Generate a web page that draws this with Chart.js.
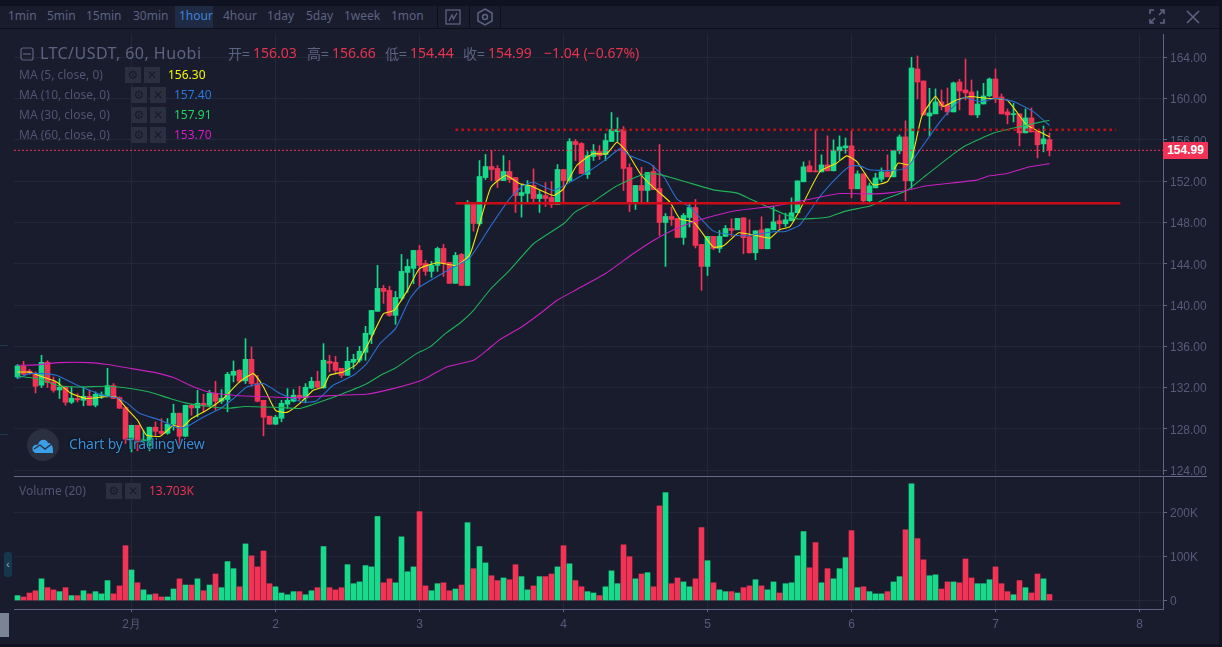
<!DOCTYPE html>
<html>
<head>
<meta charset="utf-8">
<title>LTC/USDT</title>
<script src="https://cdn.jsdelivr.net/npm/chart.js@4/dist/chart.umd.min.js"></script>
<style>
  html, body { margin: 0; padding: 0; background: #0f1220; width: 1222px; height: 647px; overflow: hidden; }
  #frame { position: absolute; left: 0; top: 6px; width: 1219px; height: 638px; background: #181c2d; }
  canvas { position: absolute; display: block; }
  .t { position: absolute; white-space: nowrap; font-family: "Noto Sans", sans-serif; line-height: 1; }
  .tool { top: 10px; font-size: 12px; color: #5d6382; }
  .sep { position: absolute; width: 1px; top: 6px; height: 22px; background: #0d101a; }
  .ma { font-size: 12px; color: #4f5572; }
  .val { font-size: 12px; }
  .btn { position: absolute; width: 16px; height: 16px; background: #2b3040; color: #161a28; font: bold 12px/16px "DejaVu Sans", sans-serif; text-align: center; }
  .hl { font-size: 14px; color: #e8334f; top: 46px; }
  .hk { font-size: 14px; color: #5d6382; top: 46px; }
</style>
</head>
<body>
<div id="frame"></div>
<canvas id="price" width="1204" height="441" style="left:14px;top:34px"></canvas>
<canvas id="volume" width="1204" height="153" style="left:14px;top:477px"></canvas>
<div style="position:absolute;left:14px;top:476px;width:1193px;height:1px;background:#666b8c"></div>
<div style="position:absolute;left:0;top:28px;width:1219px;height:1px;background:#0d101a"></div>

<!-- toolbar -->
<div style="position:absolute;left:175px;top:6px;width:38px;height:22px;background:#1f2a44"></div>
<span class="t tool" style="left:8px">1min</span>
<span class="t tool" style="left:47px">5min</span>
<span class="t tool" style="left:86px">15min</span>
<span class="t tool" style="left:133px">30min</span>
<span class="t tool" style="left:179px;color:#3f83d8">1hour</span>
<span class="t tool" style="left:223px">4hour</span>
<span class="t tool" style="left:267px">1day</span>
<span class="t tool" style="left:306px">5day</span>
<span class="t tool" style="left:344px">1week</span>
<span class="t tool" style="left:391px">1mon</span>
<div class="sep" style="left:437px"></div>
<div class="sep" style="left:469px"></div>
<div class="sep" style="left:500px"></div>
<svg style="position:absolute;left:445px;top:9px" width="16" height="16" fill="none" stroke="#5d6382" stroke-width="1.3"><rect x="1" y="1" width="14" height="14"/><path d="M4 12 L7 6 L8.5 10 L12 4"/></svg>
<svg style="position:absolute;left:477px;top:8px" width="16" height="18" fill="none" stroke="#5d6382" stroke-width="1.5"><path d="M8 1 L15 5 L15 13 L8 17 L1 13 L1 5 Z"/><circle cx="8" cy="9" r="2.5"/></svg>
<svg style="position:absolute;left:1149px;top:9px" width="16" height="15" fill="none" stroke="#5d6382" stroke-width="1.6"><path d="M1 5 V1 H5 M11 1 H15 V5 M15 10 V14 H11 M5 14 H1 V10 M2 13 L6 9 M14 2 L10 6"/></svg>
<svg style="position:absolute;left:1186px;top:10px" width="14" height="14" fill="none" stroke="#5d6382" stroke-width="1.6"><path d="M1 1 L13 13 M13 1 L1 13"/></svg>

<!-- legend -->
<svg style="position:absolute;left:20px;top:47px" width="14" height="14" fill="none" stroke="#5d6382" stroke-width="1.2"><rect x="1" y="1" width="12" height="12" rx="2"/><path d="M3 7 H11"/></svg>
<span class="t" style="left:40px;top:45px;font-size:16px;letter-spacing:0.45px;color:#5d6382">LTC/USDT, 60, Huobi</span>
<span class="t hk" style="left:228px;font-family:'Noto Sans CJK SC'">开=</span><span class="t hl" style="left:253px">156.03</span>
<span class="t hk" style="left:307px;font-family:'Noto Sans CJK SC'">高=</span><span class="t hl" style="left:332px">156.66</span>
<span class="t hk" style="left:385px;font-family:'Noto Sans CJK SC'">低=</span><span class="t hl" style="left:410px">154.44</span>
<span class="t hk" style="left:463px;font-family:'Noto Sans CJK SC'">收=</span><span class="t hl" style="left:488px">154.99</span>
<span class="t hl" style="left:544px">−1.04 (−0.67%)</span>

<span class="t ma" style="left:19px;top:69px">MA (5, close, 0)</span>
<div class="btn" style="left:125px;top:67px">⚙</div><div class="btn" style="left:144px;top:67px">✕</div>
<span class="t val" style="left:168px;top:69px;color:#f5f50a">156.30</span>
<span class="t ma" style="left:19px;top:89px">MA (10, close, 0)</span>
<div class="btn" style="left:131px;top:87px">⚙</div><div class="btn" style="left:150px;top:87px">✕</div>
<span class="t val" style="left:174px;top:89px;color:#2a78e0">157.40</span>
<span class="t ma" style="left:19px;top:109px">MA (30, close, 0)</span>
<div class="btn" style="left:131px;top:107px">⚙</div><div class="btn" style="left:150px;top:107px">✕</div>
<span class="t val" style="left:174px;top:109px;color:#1fd860">157.91</span>
<span class="t ma" style="left:19px;top:129px">MA (60, close, 0)</span>
<div class="btn" style="left:131px;top:127px">⚙</div><div class="btn" style="left:150px;top:127px">✕</div>
<span class="t val" style="left:174px;top:129px;color:#d81cc8">153.70</span>

<span class="t ma" style="left:19px;top:485px">Volume (20)</span>
<div class="btn" style="left:106px;top:483px">⚙</div><div class="btn" style="left:125px;top:483px">✕</div>
<span class="t val" style="left:149px;top:485px;color:#e8334f">13.703K</span>

<!-- last price tag -->
<div class="t" style="left:1163px;top:142px;width:45px;height:17px;background:#f23355;color:#fff;font:bold 12px/17px 'Liberation Sans',sans-serif;text-align:center">154.99</div>

<!-- watermark -->
<div style="position:absolute;left:27px;top:429px;width:32px;height:32px;border-radius:50%;background:#2a3040"></div>
<svg style="position:absolute;left:32px;top:437px" width="22" height="16"><path d="M1 14 C-1 9 3 7 6 8 C7 2 14 1 16 6 C19 6 21 8 21 14 L21 16 H3 Z" fill="#3ba0ea"/><path d="M2 12 L8 8 L13 12 L21 6" fill="none" stroke="#2a3040" stroke-width="1.4"/></svg>
<span class="t" style="left:69px;top:437px;font-size:14px;letter-spacing:-0.2px;color:#3a8fd6;text-shadow:0 0 2px #0d101a,0 0 2px #0d101a">Chart by TradingView</span>

<!-- sidebar bits -->
<div style="position:absolute;left:0;top:613px;width:9px;height:24px;background:#7b8494"></div>
<div style="position:absolute;left:4px;top:552px;width:8px;height:25px;border-radius:3px;background:#14384a;color:#9fb4c4;font:10px/25px sans-serif;text-align:center">‹</div>
<div style="position:absolute;left:0;top:345px;width:8px;height:1px;background:#1d3a4a"></div>
<div style="position:absolute;left:0;top:434px;width:8px;height:1px;background:#1d3a4a"></div>

<script>
// candles, one per hour, starting 31 Jan 05:00
const opens = [
  133.03,134.10,133.61,133.39,132.23,134.45,132.55,131.77,132.03,130.58,
  130.94,130.77,131.16,130.29,131.19,131.16,132.19,131.03,130.06,127.00,
  128.35,126.84,126.39,128.16,127.77,127.58,128.45,129.52,127.29,130.29,
  130.03,130.48,130.29,131.45,130.68,130.84,133.19,133.68,132.65,134.74,
  132.39,130.77,129.23,128.45,129.03,130.39,130.68,131.26,131.00,131.94,
  132.61,131.97,134.55,134.45,133.87,133.19,134.45,134.65,135.42,137.16,
  139.39,141.61,141.42,139.00,140.65,143.16,143.55,145.29,144.03,143.26,
  143.84,145.48,144.13,142.10,144.90,141.90,149.84,147.87,152.35,153.42,
  153.23,152.06,152.94,152.35,150.61,150.81,151.58,150.32,150.61,150.42,
  149.74,153.13,152.06,155.84,155.65,152.65,154.39,154.87,154.58,155.84,
  156.81,157.00,153.32,149.84,151.58,151.10,152.94,151.29,148.00,148.58,
  148.39,146.55,148.48,149.45,145.87,143.74,146.65,145.48,146.65,147.42,
  147.29,148.45,146.61,145.06,147.29,145.45,147.29,148.16,147.87,148.16,
  148.94,151.94,153.48,152.97,152.90,153.58,153.00,154.94,155.23,155.42,
  151.26,152.71,150.10,151.35,152.19,152.90,152.42,154.94,156.29,152.03,
  162.87,161.71,158.32,158.52,159.68,159.39,158.71,161.61,160.84,160.65,
  158.42,159.48,160.26,161.90,160.16,158.71,158.45,158.52,156.68,158.13,
  156.87,155.61,156.03];
const closes = [
  134.10,133.29,133.42,132.13,134.45,132.48,131.74,132.03,130.58,130.97,
  130.81,131.16,130.29,131.35,131.26,132.19,130.94,130.00,127.00,128.35,
  126.74,126.90,128.16,127.77,127.55,128.45,129.52,127.29,130.29,130.03,
  130.48,130.26,131.45,130.68,130.97,133.29,133.58,132.61,134.74,132.39,
  130.68,129.13,128.45,129.13,130.48,130.77,131.26,131.00,132.03,132.61,
  132.03,134.65,134.35,133.68,133.19,134.55,134.74,135.52,137.26,139.48,
  141.61,141.32,139.00,140.74,143.26,143.74,145.29,143.84,143.26,143.84,
  145.48,144.03,142.10,144.81,141.90,149.94,147.90,152.45,153.42,153.13,
  152.06,152.94,152.16,150.61,150.90,151.58,150.32,150.71,150.32,149.74,
  153.13,152.06,155.84,155.55,152.74,154.48,154.87,154.48,155.94,157.00,
  157.00,153.23,149.84,151.58,151.10,152.84,151.19,148.00,148.58,148.29,
  146.55,148.68,149.45,145.77,143.74,146.65,145.48,146.65,147.42,147.23,
  148.39,146.52,145.06,147.19,145.45,147.39,148.06,147.87,148.26,148.94,
  152.03,153.39,152.90,152.90,153.58,153.00,154.94,155.32,155.42,151.26,
  152.71,150.10,151.55,152.32,152.90,152.42,154.94,156.29,152.03,162.97,
  161.61,158.42,158.61,159.68,159.29,158.71,161.52,160.74,160.55,158.42,
  159.48,160.26,161.90,160.06,158.52,158.42,158.52,156.68,158.13,156.77,
  155.52,156.10,154.99];
const highs = [
  134.23,134.55,133.77,133.52,135.13,134.61,133.03,132.87,132.13,132.06,
  131.42,132.06,131.74,131.58,131.58,133.87,132.39,131.10,130.06,128.35,
  128.35,127.87,128.16,128.68,129.00,129.00,130.39,129.52,130.29,130.39,
  131.74,131.35,131.74,132.61,131.81,133.48,134.58,133.74,136.74,135.94,
  133.19,130.77,129.23,129.32,130.77,131.90,131.81,132.13,132.39,133.00,
  133.58,136.26,135.13,135.03,133.87,135.90,135.23,136.00,137.94,139.48,
  143.84,141.90,141.81,141.32,144.90,144.42,145.29,145.77,144.32,144.23,
  145.61,145.87,144.13,145.10,145.00,150.13,149.84,154.00,154.58,154.97,
  153.52,154.48,154.00,152.35,151.68,152.06,153.19,151.10,151.87,151.97,
  153.61,153.13,156.13,156.03,155.74,154.87,155.55,155.45,156.58,158.65,
  158.16,157.29,153.68,151.58,153.35,152.84,153.52,155.55,148.87,149.48,
  148.39,148.87,149.87,150.23,145.87,146.65,146.65,147.23,147.71,148.35,
  148.39,148.45,148.26,147.19,148.55,147.39,149.55,148.74,148.90,150.39,
  152.03,153.87,153.97,156.97,154.55,156.39,156.00,156.39,156.19,156.87,
  153.00,152.71,151.81,152.77,153.29,154.55,154.94,156.48,157.84,164.00,
  164.13,161.71,161.00,160.94,160.84,161.03,161.61,161.87,163.84,161.81,
  160.74,161.48,162.00,162.87,160.45,159.00,159.55,158.52,159.00,159.10,
  156.87,157.35,156.66];
const lows = [
  132.87,133.26,133.29,131.48,132.00,132.00,131.55,130.94,130.29,130.45,
  130.61,130.23,130.29,130.13,130.94,131.10,130.94,129.97,126.58,125.77,
  125.87,126.58,125.87,127.23,127.39,127.48,127.87,126.26,127.23,129.32,
  129.16,129.65,130.13,129.81,130.45,129.65,132.55,132.48,132.39,132.13,
  130.61,127.32,128.45,128.42,128.68,129.97,130.61,130.77,130.52,131.87,
  132.00,131.94,133.52,133.42,132.94,133.19,133.81,134.45,134.65,136.26,
  139.39,140.16,138.90,138.13,140.45,141.23,142.06,141.81,142.87,142.68,
  143.26,142.77,142.10,142.10,141.90,141.90,147.16,147.71,152.16,152.06,
  151.39,152.06,151.87,148.97,148.52,149.94,149.94,148.97,149.55,149.45,
  149.74,150.03,151.97,154.00,152.74,152.26,154.00,154.10,154.00,155.84,
  155.84,151.10,149.06,149.26,149.94,149.84,151.19,146.74,143.74,147.71,
  146.55,145.87,147.55,145.52,141.42,142.87,145.35,145.10,146.65,146.65,
  147.29,144.97,145.03,144.39,145.45,145.45,147.29,147.39,147.61,148.16,
  148.94,151.94,152.90,152.90,152.90,153.00,153.00,154.06,154.71,150.39,
  151.26,149.81,149.81,151.35,151.94,152.42,152.42,154.65,150.10,151.32,
  159.97,158.42,156.39,158.52,158.90,158.42,158.71,158.90,159.87,158.42,
  158.16,159.48,160.19,159.61,158.52,157.55,157.74,155.42,156.68,156.77,
  154.26,154.84,154.44];
// thousands
const volumes = [
  11,8,17,22,49,29,24,20,29,11,
  11,22,15,20,15,45,15,33,124,69,
  40,24,13,15,8,8,26,49,35,35,
  49,22,35,60,29,88,72,31,128,101,
  76,112,38,31,17,13,20,20,13,22,
  29,122,29,24,29,81,38,42,79,76,
  190,40,49,40,144,65,76,201,33,22,
  38,40,22,26,35,176,72,122,85,56,
  45,51,47,81,54,24,33,54,54,60,
  76,124,83,45,31,20,17,11,31,67,
  38,126,99,49,60,63,31,214,244,38,
  51,42,31,49,165,90,40,24,20,20,
  17,29,33,47,33,24,42,17,38,40,
  101,156,74,131,40,72,49,72,97,158,
  29,31,20,15,15,20,42,54,160,264,
  140,92,56,58,26,42,42,40,94,51,
  38,38,47,76,38,20,13,45,29,17,
  60,49,13.703];

// moving averages at candle positions
const ma5At = [0,2,4.3,6.5,9,11.5,14.3,16.5,18.2,20,21.5,23.8,26,27.4,29,31.5,34.3,37,39.3,41,43,44.9,47,49.3,51,52,54.3,56.5,58.75,61,62.75,65,67,70,73.2,75.4,77,78.9,81.4,83.75,85.4,89.3,91,93.2,95.9,98.2,99.9,101.5,104,106.25,108.75,110.4,112.7,116,117.75,120.2,122.6,125.4,127,128.75,130.4,133.75,136.5,138.2,139.9,142.6,145,146.75,148.75,150.7,153,154.3,156.5,158.75,161.5,164.9,166.5,168.2,172];
const ma5 = [133.5,133.5,133.0,132.55,131.42,130.94,131.1,131.1,129.97,128.84,127.39,127.29,128.35,128.13,129.0,129.8,130.94,132.55,133.35,132.06,129.8,129.6,130.45,131.74,132.06,133.19,133.52,134.26,136.58,139.16,139.48,141.42,143.52,144.1,143.84,144.9,147.87,151.42,152.55,151.74,151.58,150.61,151.26,153.52,154.65,154.65,155.77,154.9,152.55,151.26,149.97,148.35,148.03,145.61,145.77,147.0,146.8,146.48,147.3,147.6,149.23,152.94,153.74,154.45,153.9,151.65,151.97,153.74,153.58,158.26,160.2,159.23,159.87,160.2,160.03,159.87,158.74,157.45,156.3];
const ma10At = [0,2,4.3,6.5,10,13.2,15,16.5,18.2,20.4,23.8,26.6,28.2,31,33.8,36,38.2,41,43.75,47.6,49.8,52.6,56,58.2,60.4,63,65.4,67,71.5,75.4,78.75,82,84.3,86,89.3,92.6,95.4,98.2,100.4,102,105.4,107.75,109.9,112.1,116,120,122,126,128,130.4,133.75,137,138.8,140.4,142,145.4,148.2,150.4,153.75,156,157.7,160.4,163.2,166,169.3,172];
const ma10 = [132.87,133.35,133.35,133.19,132.23,131.48,131.16,131.03,130.52,129.48,128.84,128.1,128.2,129.16,129.97,130.94,132.06,132.39,131.42,130.58,130.71,132.23,133.19,134.32,136.26,137.71,140.6,141.74,143.29,144.6,147.55,150.29,151.58,151.9,151.1,152.06,153.03,154.16,155.13,154.48,153.68,152.39,150.29,149.48,147.16,146.74,146.74,147.1,147.13,147.77,150.52,152.6,153.48,153.48,153.1,153.03,153.26,155.03,157.77,159.23,160.1,159.71,160.03,159.71,158.74,157.4];
const ma30At = [0,2,4.3,6.5,10,15,19.3,22,25.4,28,31.5,35,38,44,47,49.3,53.2,58,60.8,63,66.5,68.75,71.5,73.75,76,78.75,82,86,91,92.9,95.4,99.5,103.75,106.5,111,116,120,122,124.9,129.9,135,138,142.1,144.3,148.2,151.5,156,158.2,162.6,166.6,172];
const ma30 = [133.13,132.97,132.7,132.23,132.06,132.13,131.87,131.58,130.94,130.52,130.19,130.0,130.16,130.06,129.97,130.39,131.19,132.32,133.29,133.9,135.29,135.94,137.32,138.26,139.48,141.48,143.35,145.94,147.87,149.0,149.8,151.42,152.55,152.71,152.0,151.16,150.84,150.3,149.55,148.35,148.5,149.1,149.6,150.2,151.1,152.6,154.65,155.5,156.65,157.23,157.91];
const ma60At = [0,3,7,12,15,19,23,26,29,32,36,40,47,49.3,53.75,58,62.6,67.4,71.5,76,78.2,80.4,84,87,90,93.2,98.2,102.6,106,110.4,114.9,119.9,126,131,137,142.6,145.4,148.2,151.5,159.8,162,164.9,168.7,172];
const ma60 = [134.16,134.2,134.42,134.42,134.23,133.84,133.45,132.97,132.16,131.55,131.26,131.13,131.03,131.13,131.26,131.35,131.9,132.7,134.0,134.65,135.6,136.65,137.87,139.13,140.48,141.5,143.13,144.97,146.26,147.55,148.45,149.16,149.58,150.13,150.8,150.77,150.87,151.1,151.55,152.1,152.52,152.74,153.39,153.7];

// levels drawn by hand on the chart
const supportLevel = 149.86;
const resistanceLevel = 156.98;
const levelFrom = 73;
const supportTo = 183.8;
const resistanceTo = 183.1;
const lastPrice = 154.99;

const priceTicks = [124,128,132,136,140,144,148,152,156,160,164];
const volumeTicks = [0,100,200];
const dayIndex = [19,43,67,91,115,139,163,187];
const dayLabels = ['2月','2','3','4','5','6','7','8'];

const X_MIN = -0.5833;
const X_MAX = 190.9167;
const UP = '#17da8a';
const DOWN = '#f23355';
const GRID = '#232839';
const AXIS = '#5f6488';
const LABEL = '#555b7a';
const AXIS_FONT = { family: '"Liberation Sans", sans-serif', size: 12 };
// labels sit a little under their grid line: blank first line with a short line height pushes them down
const Y_FONT = { family: '"Liberation Sans", sans-serif', size: 12, lineHeight: '3px' };

const indexes = opens.map((_, i) => i);
const candleColor = (i) => (closes[i] < opens[i] ? DOWN : UP);
const toPoints = (xs, ys) => xs.map((x, i) => ({ x, y: ys[i] }));

function maLine(xs, ys, color) {
  return {
    type: 'line', data: toPoints(xs, ys), borderColor: color, borderWidth: 1.1,
    pointRadius: 0, tension: 0.15, order: 1,
  };
}

function levelLine(from, to, y, color, width, dash) {
  return {
    type: 'line', data: toPoints([from, to], [y, y]), borderColor: color, borderWidth: width,
    borderDash: dash, pointRadius: 0, order: 0,
  };
}

function setDayTicks(scale) {
  scale.ticks = dayIndex.map((value) => ({ value }));
}

// no label overhang, the plot area has to sit on exact pixels
function fixX(height) {
  return (s) => { s.height = height; s.paddingLeft = 0; s.paddingRight = 0; };
}

function fixY(s) {
  s.width = 55; s.paddingTop = 0; s.paddingBottom = 0;
}

new Chart(document.getElementById('price'), {
  type: 'bar',
  data: {
    datasets: [
      {
        data: indexes.map((i) => ({ x: i, y: [lows[i], highs[i]] })),
        backgroundColor: indexes.map(candleColor),
        barThickness: 1, grouped: false, order: 3,
      },
      {
        data: indexes.map((i) => ({ x: i, y: [opens[i], closes[i]] })),
        backgroundColor: indexes.map(candleColor),
        barThickness: 5, grouped: false, minBarLength: 1, order: 2,
      },
      maLine(ma60At, ma60, '#c91fc0'),
      maLine(ma30At, ma30, '#1fb257'),
      maLine(ma10At, ma10, '#2a6fd0'),
      maLine(ma5At, ma5, '#f0e611'),
      levelLine(levelFrom, supportTo, supportLevel, '#c90d18', 2.6, []),
      levelLine(levelFrom, resistanceTo, resistanceLevel, '#c90d18', 2.4, [2.4, 3.6]),
      levelLine(X_MIN, X_MAX, lastPrice, DOWN, 1, [2, 2]),
    ],
  },
  options: {
    responsive: false,
    animation: false,
    events: [],
    layout: { padding: 0 },
    plugins: { legend: { display: false }, tooltip: { enabled: false } },
    scales: {
      x: {
        type: 'linear', offset: false, min: X_MIN, max: X_MAX,
        afterBuildTicks: setDayTicks,
        afterFit: fixX(0),
        ticks: { display: false },
        grid: { color: GRID, drawTicks: false, offset: false },
        border: { display: false },
      },
      y: {
        position: 'right', min: 123.53, max: 166.26,
        afterBuildTicks: (s) => { s.ticks = priceTicks.map((value) => ({ value })); },
        afterFit: fixY,
        ticks: { color: LABEL, font: Y_FONT, padding: 3, callback: (v) => ['', v.toFixed(2)] },
        grid: { color: GRID, tickColor: AXIS, tickLength: 4 },
        border: { display: true, color: AXIS },
      },
    },
  },
});

new Chart(document.getElementById('volume'), {
  type: 'bar',
  data: {
    datasets: [{
      data: indexes.map((i) => ({ x: i, y: volumes[i] })),
      backgroundColor: indexes.map(candleColor),
      barThickness: 5,
    }],
  },
  options: {
    responsive: false,
    animation: false,
    events: [],
    layout: { padding: 0 },
    plugins: { legend: { display: false }, tooltip: { enabled: false } },
    scales: {
      x: {
        type: 'linear', offset: false, min: X_MIN, max: X_MAX,
        afterBuildTicks: setDayTicks,
        afterFit: fixX(21),
        ticks: {
          color: LABEL, font: AXIS_FONT, padding: 5, maxRotation: 0, autoSkip: false,
          callback: (v) => dayLabels[dayIndex.indexOf(v)],
        },
        grid: { color: GRID, tickColor: AXIS, tickLength: 3, offset: false },
        border: { display: true, color: AXIS },
      },
      y: {
        position: 'right', min: -19.2, max: 279.4,
        afterBuildTicks: (s) => { s.ticks = volumeTicks.map((value) => ({ value })); },
        afterFit: fixY,
        ticks: { color: LABEL, font: Y_FONT, padding: 3, callback: (v) => ['', v === 0 ? '0' : `${v}K`] },
        grid: { color: GRID, tickColor: AXIS, tickLength: 4 },
        border: { display: true, color: AXIS },
      },
    },
  },
});
</script>
</body>
</html>
